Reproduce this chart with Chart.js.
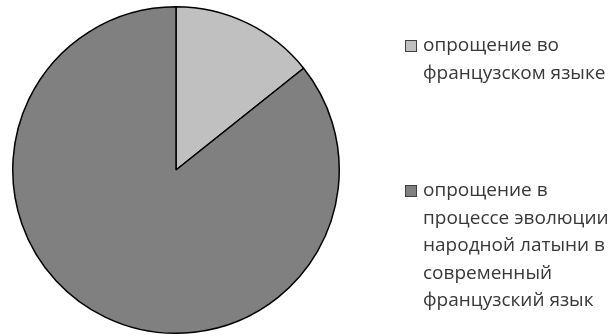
<!DOCTYPE html>
<html>
<head>
<meta charset="utf-8">
<script src="https://cdn.jsdelivr.net/npm/chart.js@4"></script>
<style>
  html, body { margin: 0; padding: 0; background: #fff; }
  #wrap { position: relative; width: 613px; height: 336px; overflow: hidden; }
  #c { position: absolute; left: 0; top: 0; }
  .leg { position: absolute; left: 405px; font-family: "Open Sans", sans-serif; font-size: 19px; line-height: 27.5px; color: #383838; }
  .leg .box { position: absolute; left: 0; width: 10px; height: 10px; border: 1px solid #404040; }
  .leg .txt { position: absolute; left: 18px; white-space: nowrap; }
</style>
</head>
<body>
<div id="wrap">
  <canvas id="c" width="613" height="336"></canvas>
  <div id="legend"></div>
</div>
<script>
const categories = [
  ["опрощение во", "французском языке"],
  ["опрощение в", "процессе эволюции", "народной латыни в", "современный", "французский язык"]
];
const values = [1, 6];
const colors = ["#c0c0c0", "#808080"];

new Chart(document.getElementById('c'), {
  type: 'pie',
  data: {
    labels: categories.map(c => c.join(' ')),
    datasets: [{
      data: values,
      backgroundColor: colors,
      borderColor: '#000000',
      borderWidth: 1.5
    }]
  },
  options: {
    responsive: false,
    animation: false,
    layout: { padding: { left: 12, top: 6, right: 273, bottom: 2 } },
    plugins: { legend: { display: false }, tooltip: { enabled: false } }
  }
});

// HTML legend with wrapped labels
const legendTops = [31, 176];
const legendEl = document.getElementById('legend');
categories.forEach((lines, i) => {
  const d = document.createElement('div');
  d.className = 'leg';
  d.style.top = legendTops[i] + 'px';
  const box = document.createElement('div');
  box.className = 'box';
  box.style.top = '9px';
  box.style.background = colors[i];
  d.appendChild(box);
  lines.forEach((ln, j) => {
    const t = document.createElement('div');
    t.className = 'txt';
    t.style.top = (j * 27.5) + 'px';
    t.textContent = ln;
    d.appendChild(t);
  });
  legendEl.appendChild(d);
});
</script>
</body>
</html>
